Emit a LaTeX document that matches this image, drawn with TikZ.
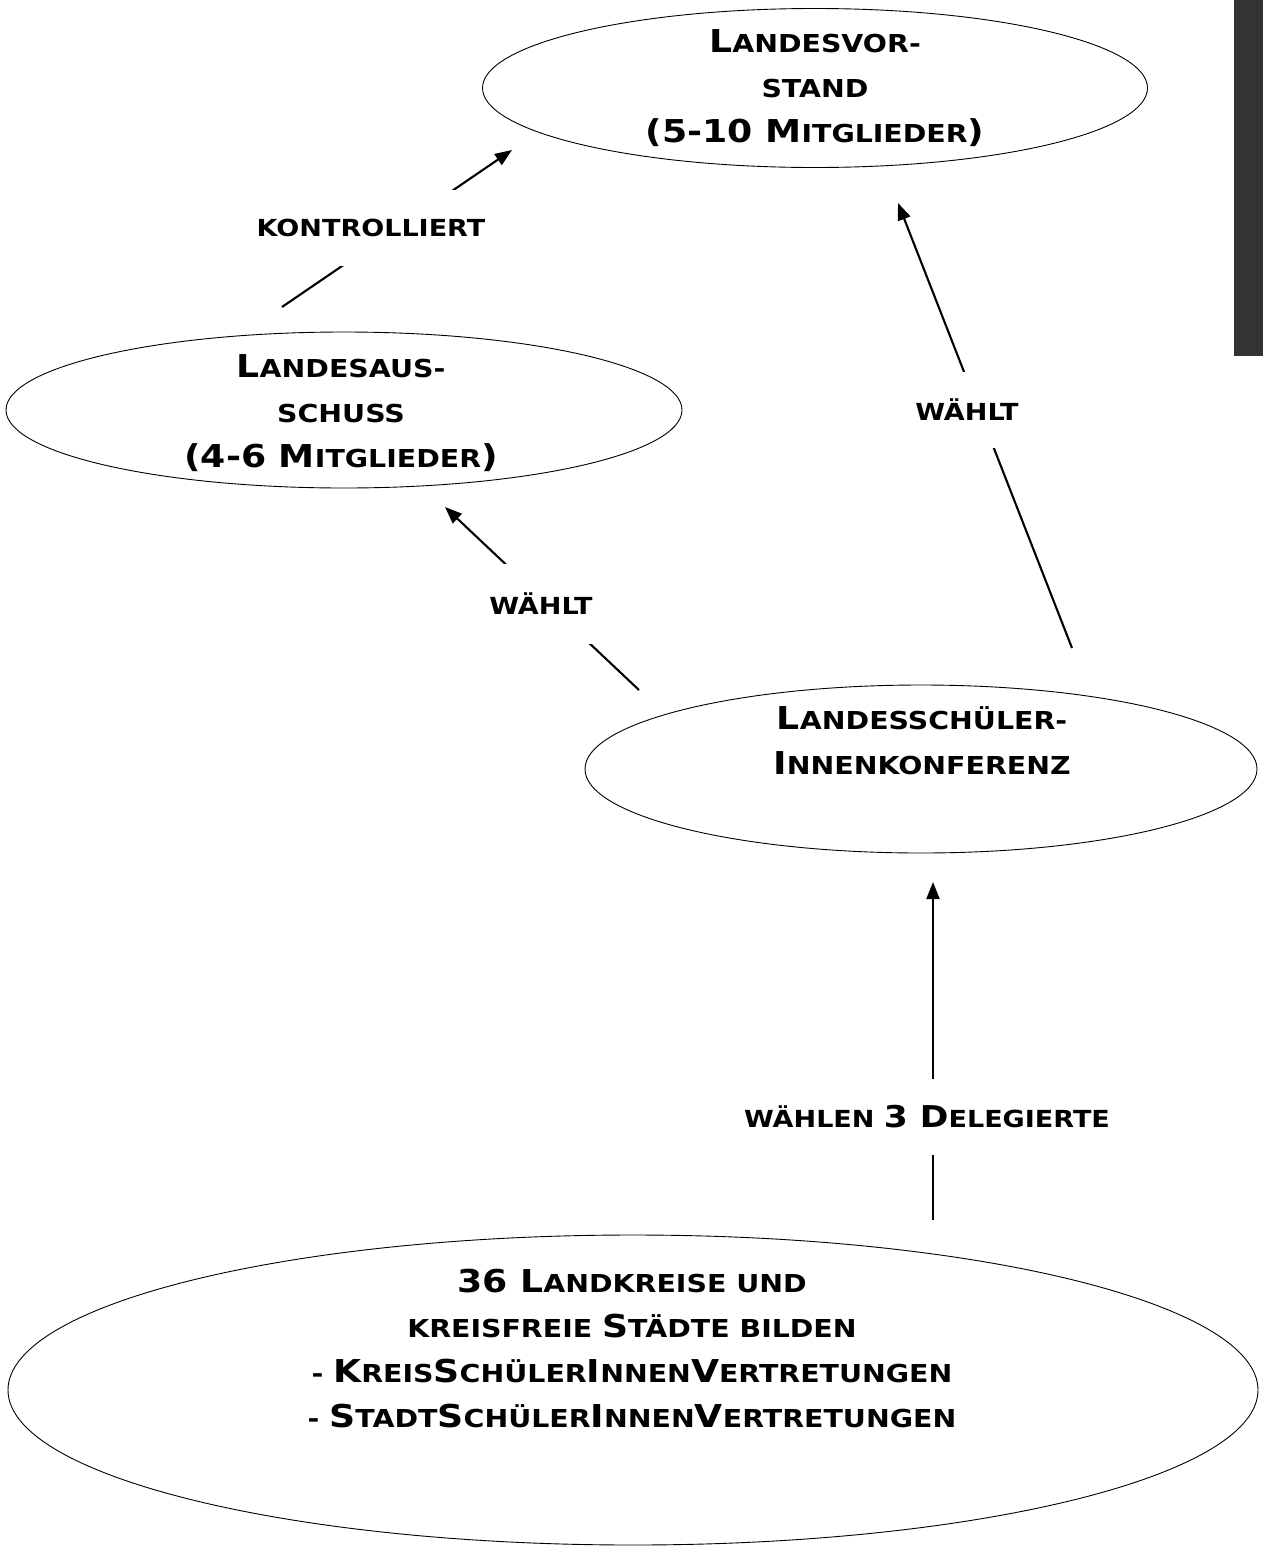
\documentclass[tikz,border=0pt]{standalone}
\usepackage{fontspec}
\newfontfamily\cg[FakeStretch=1.15]{DejaVu Sans}
\usetikzlibrary{shapes.geometric,arrows.meta}
\newcommand\Bg[1]{{\fontsize{31.5}{45}\selectfont #1}}
\newcommand\Eg[1]{{\fontsize{30}{36}\selectfont #1}}
\definecolor{barcol}{HTML}{333333}
\begin{document}
\begin{tikzpicture}[x=1pt,y=-1pt,
  blob/.style={draw, line width=0.9pt, ellipse, inner sep=0pt},
  ntext/.style={font=\cg\bfseries\fontsize{24.7}{45}\selectfont, align=center, inner sep=0pt},
  elab/.style={fill=white, font=\cg\bfseries\fontsize{23.5}{30}\selectfont, inner xsep=3pt, inner ysep=0pt, minimum height=76pt},
  conn/.style={line width=2.1pt, -{Triangle[length=17pt,width=13pt]}}]
\useasboundingbox (0,0) rectangle (1263,1550);
\fill[barcol] (1234,0) rectangle (1263,356);

% ellipses
\node[blob, minimum width=665pt, minimum height=159pt] (vorstand) at (815,88) {};
\node[blob, minimum width=676pt, minimum height=156pt] (ausschuss) at (344,410) {};
\node[blob, minimum width=672pt, minimum height=168pt] (lsk) at (921,769) {};
\node[blob, minimum width=1250pt, minimum height=310pt] (kreise) at (633,1390) {};

% texts
\node[ntext] (tvorstand) at (815,88) {\Bg{L}ANDESVOR-\\STAND\\\Bg{(5-10 M}ITGLIEDER\Bg{)}};
\node[ntext] (tausschuss) at (341,413) {\Bg{L}ANDESAUS-\\SCHUSS\\\Bg{(4-6 M}ITGLIEDER\Bg{)}};
\node[ntext] (tlsk) at (922,741) {\Bg{L}ANDESSCHÜLER-\\\Bg{I}NNENKONFERENZ};
\node[ntext] (tkreise) at (632,1349) {\Bg{36 L}ANDKREISE UND\\KREISFREIE \Bg{S}TÄDTE BILDEN\\- \Bg{K}REIS\Bg{S}CHÜLER\Bg{I}NNEN\Bg{V}ERTRETUNGEN\\- \Bg{S}TADT\Bg{S}CHÜLER\Bg{I}NNEN\Bg{V}ERTRETUNGEN};

% connector end points
\coordinate (c1a) at (282,307); \coordinate (c1b) at (512,150);
\coordinate (c2a) at (1072,648); \coordinate (c2b) at (898,203);
\coordinate (c3a) at (639,690); \coordinate (c3b) at (445,507);
\coordinate (c4a) at (933,1220); \coordinate (c4b) at (933,882);

\draw[conn] (c1a) -- (c1b);
\draw[conn] (c2a) -- (c2b);
\draw[conn] (c3a) -- (c3b);
\draw[conn] (c4a) -- (c4b);

% labels
\node[elab] (l1) at (371,228) {KONTROLLIERT};
\node[elab] (l2) at (967,410) {WÄHLT};
\node[elab, minimum height=80pt] (l3) at (541,604) {WÄHLT};
\node[elab] (l4) at (927,1117) {WÄHLEN \Eg{3 D}ELEGIERTE};
\end{tikzpicture}
\end{document}
